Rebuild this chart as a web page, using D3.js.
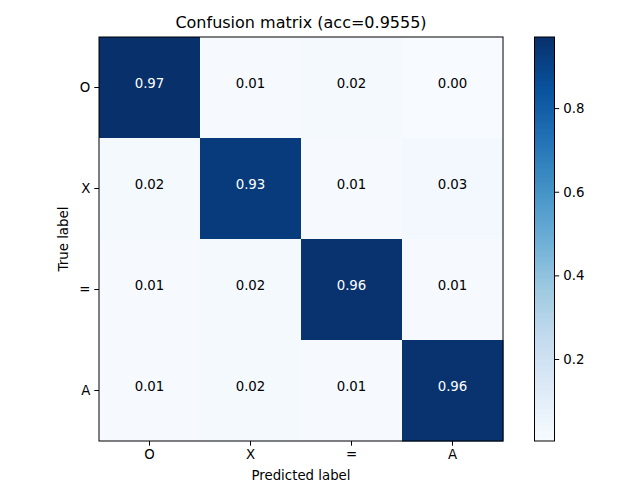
<!DOCTYPE html>
<html>
<head>
<meta charset="utf-8">
<script src="https://cdn.jsdelivr.net/npm/d3@7"></script>
<style>
  body { margin: 0; background: #fff; }
  svg { font-family: "DejaVu Sans", sans-serif; }
</style>
</head>
<body>
<svg id="chart" width="640" height="480"></svg>
<script>
// ---------- Data ----------
const classes = ["O", "X", "=", "A"];
// rows = true label, cols = predicted label
const matrix = [
  [0.97, 0.01, 0.02, 0.004],
  [0.02, 0.93, 0.01, 0.03],
  [0.01, 0.02, 0.96, 0.01],
  [0.01, 0.02, 0.01, 0.96]
];
const accuracy = 0.9555;
const cbarTicks = [0.2, 0.4, 0.6, 0.8];

// matplotlib "Blues" (linear between the 9 brewer stops)
const bluesStops = ["#f7fbff", "#deebf7", "#c6dbef", "#9ecae1", "#6baed6",
                    "#4292c6", "#2171b5", "#08519c", "#08306b"];
const blues = d3.piecewise(d3.interpolateRgb, bluesStops);

// ---------- Layout ----------
const svg = d3.select("#chart");
const M = { l: 99, t: 37 }, S = 404;
const cb = { x: 534.5, w: 20 };

const x = d3.scaleBand().domain(classes).range([M.l, M.l + S]);
const y = d3.scaleBand().domain(classes).range([M.t, M.t + S]);

const flat = matrix.flat();
const vmin = d3.min(flat), vmax = d3.max(flat);
const color = d3.scaleSequential(blues).domain([vmin, vmax]);
const thresh = vmax / 2;

const cells = [];
matrix.forEach((row, i) => row.forEach((v, j) => cells.push({ r: classes[i], c: classes[j], v })));

svg.append("g").selectAll("rect").data(cells).enter().append("rect")
  .attr("x", d => x(d.c))
  .attr("y", d => y(d.r))
  .attr("width", x.bandwidth() + 0.5)
  .attr("height", y.bandwidth() + 0.5)
  .attr("fill", d => color(d.v));

svg.append("g").selectAll("text").data(cells).enter().append("text")
  .attr("x", d => x(d.c) + x.bandwidth() / 2)
  .attr("y", d => y(d.r) + y.bandwidth() / 2)
  .attr("text-anchor", "middle")
  .attr("dy", "0")
  .attr("font-size", 13.33)
  .attr("fill", d => d.v > thresh ? "#fff" : "#000")
  .text(d => d.v.toFixed(2));

// frame
svg.append("rect").attr("x", M.l).attr("y", M.t).attr("width", S).attr("height", S)
  .attr("fill", "none").attr("stroke", "#000").attr("stroke-width", 1);

// axes
const ax = svg.append("g").attr("transform", `translate(0,${M.t + S})`)
  .call(d3.axisBottom(x).tickSize(4.7).tickPadding(4));
const ay = svg.append("g").attr("transform", `translate(${M.l},0)`)
  .call(d3.axisLeft(y).tickSize(4.7).tickPadding(4));
[ax, ay].forEach(a => {
  a.select(".domain").remove();
  a.selectAll("text").attr("font-size", 13.33).attr("font-family", "DejaVu Sans").attr("fill", "#000");
  a.selectAll("line").attr("stroke", "#000");
});

// labels
svg.append("text").attr("x", M.l + S / 2).attr("y", 28)
  .attr("text-anchor", "middle").attr("font-size", 16)
  .text(`Confusion matrix (acc=${accuracy.toFixed(4)})`);
svg.append("text").attr("x", M.l + S / 2).attr("y", 480)
  .attr("text-anchor", "middle").attr("font-size", 13.33)
  .text("Predicted label");
svg.append("text").attr("transform", `translate(68,${M.t + S / 2}) rotate(-90)`)
  .attr("text-anchor", "middle").attr("font-size", 13.33)
  .text("True label");

// ---------- Colorbar ----------
const cy = d3.scaleLinear().domain([vmin, vmax]).range([M.t + S, M.t]);
const defs = svg.append("defs");
const grad = defs.append("linearGradient").attr("id", "cbar")
  .attr("x1", 0).attr("y1", 1).attr("x2", 0).attr("y2", 0);
bluesStops.forEach((c, i) => {
  grad.append("stop").attr("offset", i / (bluesStops.length - 1)).attr("stop-color", c);
});
svg.append("rect").attr("x", cb.x).attr("y", M.t).attr("width", cb.w).attr("height", S)
  .attr("fill", "url(#cbar)").attr("stroke", "#000").attr("stroke-width", 1);
const ac = svg.append("g").attr("transform", `translate(${cb.x + cb.w},0)`)
  .call(d3.axisRight(cy).tickValues(cbarTicks).tickFormat(d3.format(".1f")).tickSize(4.7).tickPadding(4));
ac.select(".domain").remove();
ac.selectAll("text").attr("font-size", 13.33).attr("font-family", "DejaVu Sans").attr("fill", "#000");
ac.selectAll("line").attr("stroke", "#000");
</script>
</body>
</html>
